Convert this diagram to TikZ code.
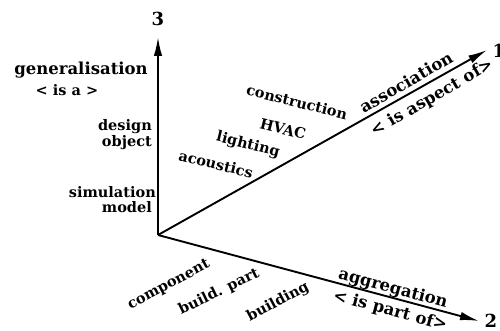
\documentclass[tikz,border=0pt]{standalone}
\usepackage{fontspec}
\setmainfont{DejaVu Serif}
\usetikzlibrary{arrows.meta}
\begin{document}
\begin{tikzpicture}[x=1pt,y=-1pt,
  axis/.style={line width=1.9pt,-{Latex[length=19pt,width=8.5pt]}},
  lbl/.style={font=\bfseries\fontsize{14.5}{15}\selectfont, inner sep=0pt},
  rel/.style={font=\bfseries\fontsize{16.5}{17}\selectfont, inner sep=0pt},
  num/.style={font=\bfseries\fontsize{18}{18}\selectfont, inner sep=0pt}]
\useasboundingbox (0,0) rectangle (500,331);
\coordinate (o) at (158,235);
\coordinate (t3) at (158,37);
\coordinate (t1) at (487,50);
\coordinate (t2) at (479,321);
\draw[axis] (o) -- (t3);
\draw[axis] (o) -- (t1);
\draw[axis] (o) -- (t2);
% axis numbers
\node[num] (n3) at (158,19) {3};
\node[num] (n1) at (499,51) {1};
\node[num] (n2) at (491,321) {2};
% axis 3
\node[rel] (gen) at (81,70) {generalisation};
\node[lbl] (isa) at (67,90) {< is a >};
\node[lbl,anchor=east] (des) at (152,127) {design};
\node[lbl,anchor=east] (obj) at (152,143) {object};
\node[lbl,anchor=east] (sim) at (156,192) {simulation};
\node[lbl,anchor=east] (mod) at (152,207) {model};
% axis 1
\node[rel,rotate=30] (ass) at (406,82) {association};
\node[rel,rotate=30] (asp) at (432,98) {< is aspect of>};
\node[lbl,rotate=-14] (con) at (297,102) {construction};
\node[lbl,rotate=-14] (hva) at (283,129) {HVAC};
\node[lbl,rotate=-14] (lig) at (248,145) {lighting};
\node[lbl,rotate=-14] (aco) at (216,164) {acoustics};
% axis 2
\node[rel,rotate=-15] (agg) at (393,289) {aggregation};
\node[rel,rotate=-15] (par) at (390,311) {< is part of>};
\node[lbl,rotate=28] (com) at (169,285) {component};
\node[lbl,rotate=26] (bpa) at (219,292) {build. part};
\node[lbl,rotate=28] (bui) at (278,302) {building};
\end{tikzpicture}
\end{document}
